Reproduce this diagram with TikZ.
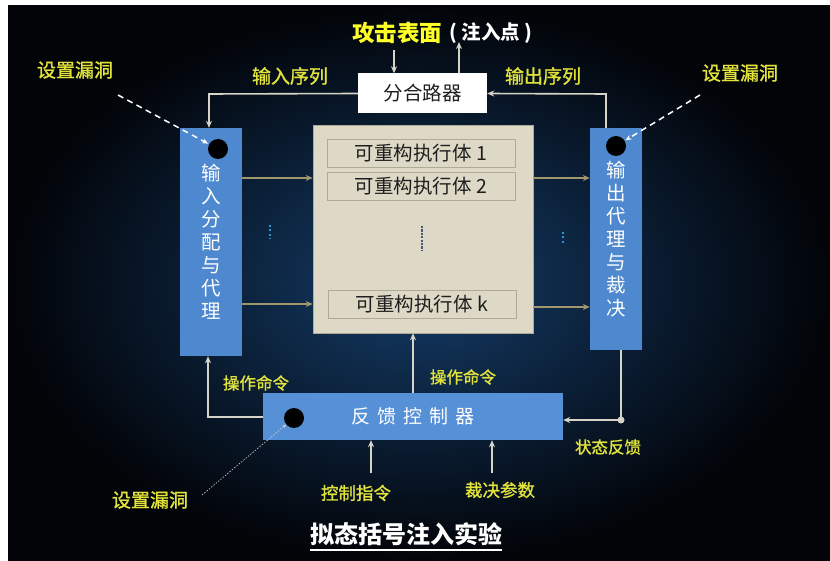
\documentclass[tikz,border=0pt]{standalone}
\usepackage{fontspec}
\setmainfont{Noto Sans CJK SC}
\newfontfamily\semibold[FakeBold=1.2]{Noto Sans CJK SC}
\usetikzlibrary{arrows.meta,calc}
\definecolor{bgcenter}{RGB}{20,60,104}
\definecolor{bgouter}{RGB}{2,4,8}
\definecolor{barblue}{RGB}{78,136,206}
\definecolor{fbblue}{RGB}{86,144,214}
\definecolor{beige}{RGB}{221,217,198}
\definecolor{beigeline}{RGB}{175,170,150}
\definecolor{olive}{RGB}{160,152,108}
\definecolor{linkgray}{RGB}{214,212,200}
\definecolor{labyellow}{RGB}{226,228,60}
\definecolor{hotyellow}{RGB}{255,255,40}
\definecolor{dotcyan}{RGB}{40,150,215}
\definecolor{txtdark}{RGB}{30,30,30}
\tikzset{
  bar/.style={draw=none, fill=barblue, inner sep=0pt, text=white, align=center,
    font=\fontsize{19.5}{23}\selectfont},
  exec/.style={draw=beigeline, line width=0.6pt, fill=beige, inner sep=0pt,
    minimum width=188pt, minimum height=28pt, text=txtdark, font=\fontsize{19.5}{20}\selectfont},
  hole/.style={circle, fill=black, draw=none, minimum size=20pt, inner sep=0pt},
  ylab/.style={text=labyellow, inner sep=0pt, font=\semibold\fontsize{19}{20}\selectfont},
  ylabs/.style={text=labyellow, inner sep=0pt, font=\semibold\fontsize{16.5}{18}\selectfont},
  tip/.style={-{Stealth[length=7pt,width=6pt]}},
  linkw/.style={draw=linkgray, line width=1.6pt, tip},
  linko/.style={draw=olive, line width=2pt, tip},
  holelink/.style={draw=white, line width=1.5pt, dash pattern=on 6pt off 4.5pt,
    -{Stealth[length=6pt,width=5pt]}, shorten >=1pt},
}
\begin{document}
\begin{tikzpicture}[x=1pt,y=-1pt]
\useasboundingbox (0,0) rectangle (830,561);
\fill[white] (0,0) rectangle (830,561);
\shade[inner color=bgcenter, outer color=bgouter] (8,6) rectangle (830,561);

% top title
\node[inner sep=0pt, text=hotyellow, font=\fontsize{22.5}{24}\selectfont\bfseries] (atk) at (397,33) {攻击表面};
\node[inner sep=0pt, text=white, font=\fontsize{19.5}{20}\selectfont\bfseries] (inj) at (491,33) {(\hspace{4pt}注入点\hspace{4pt})};

% splitter
\node[draw=none, fill=white, minimum width=129pt, minimum height=40pt, inner sep=0pt,
  text=txtdark, font=\fontsize{19.5}{20}\selectfont] (sp) at (422.5,93.5) {分合路器};
\coordinate (atkin) at (394,50);
\coordinate (atkout) at (459,42);
\draw[linkw] (atkin) -- (atkin |- sp.north);
\draw[linkw] (atkout |- sp.north) -- (atkout);

% bars
\node[bar, minimum width=62pt, minimum height=228pt] (lbar) at (211,242) {输\\入\\分\\配\\与\\代\\理};
\node[bar, minimum width=52pt, minimum height=222pt] (rbar) at (616,239) {输\\出\\代\\理\\与\\裁\\决};
\node[hole] (holeL) at (218,149) {};
\node[hole] (holeR) at (616,146) {};

% top connectors
\coordinate (lin) at (209,94);
\coordinate (rout) at (606,94);
\draw[linkw] (sp.west) -- (lin) -- (lin |- lbar.north);
\draw[linkw] (rout |- rbar.north) -- (rout) -- (sp.east);
\node[ylab] (inseq) at (290,76) {输入序列};
\node[ylab] (outseq) at (543,76) {输出序列};

% set holes top
\node[ylab] (hTL) at (75,70) {设置漏洞};
\node[ylab] (hTR) at (740,73) {设置漏洞};
\coordinate (hl1) at (118,95);
\coordinate (hr1) at (700,95);
\draw[holelink] (hl1) -- (holeL);
\draw[holelink] (hr1) -- (holeR);

% center executor pool
\node[draw=beigeline, line width=0.6pt, fill=beige, minimum width=220pt, minimum height=208pt, inner sep=0pt] (pool) at (423,229) {};
\node[exec] (e1) at (421,153) {可重构执行体 1};
\node[exec] (e2) at (421,186) {可重构执行体 2};
\node[exec] (ek) at (422,304) {可重构执行体 k};
\coordinate (pd1) at (422,226);
\coordinate (pd2) at (422,250);
\draw[draw={rgb,255:red,70;green,90;blue,120}, line width=2.2pt, dash pattern=on 2.2pt off 1.2pt] (pd1) -- (pd2);

% olive arrows
\draw[linko] (lbar.east |- 0,178) -- (pool.west |- 0,178);
\draw[linko] (lbar.east |- 0,304) -- (pool.west |- 0,304);
\draw[linko] (pool.east |- 0,178) -- (rbar.west |- 0,178);
\draw[linko] (pool.east |- 0,307) -- (rbar.west |- 0,307);

% cyan dots
\coordinate (cl1) at (270,225);
\coordinate (cl2) at (270,239);
\coordinate (cr1) at (563,232);
\coordinate (cr2) at (563,245);
\draw[dotcyan, line width=1.8pt, dash pattern=on 1.8pt off 2.6pt] (cl1) -- (cl2);
\draw[dotcyan, line width=1.8pt, dash pattern=on 1.8pt off 2.6pt] (cr1) -- (cr2);

% feedback controller
\node[draw=none, fill=fbblue, minimum width=300pt, minimum height=47pt, inner sep=0pt,
  text=white, font=\fontsize{19}{20}\selectfont] (fb) at (413,416.5)
  {反\hspace{7pt}馈\hspace{7pt}控\hspace{7pt}制\hspace{7pt}器};
\node[hole] (holeF) at (294,418) {};

\coordinate (fbl) at (208,417);
\draw[linkw] (fb.west |- fbl) -- (fbl) -- (fbl |- lbar.south);
\draw[linkw] (fb.north) -- (fb.north |- pool.south);
\coordinate (rfb) at (621,420);
\draw[linkw] (rfb |- rbar.south) -- (rfb) -- (fb.east |- rfb);
\fill[linkgray] (rfb) circle (3.5pt);

\coordinate (ci) at (371,473);
\coordinate (vp) at (492,473);
\draw[linkw] (ci) -- (ci |- fb.south);
\draw[linkw] (vp) -- (vp |- fb.south);

\node[ylabs] (op1) at (256,383) {操作命令};
\node[ylabs] (op2) at (463,377) {操作命令};
\node[ylabs] (sf) at (608,447) {状态反馈};
\node[ylab, font=\semibold\fontsize{17.5}{18}\selectfont] (ctl) at (356,493) {控制指令};
\node[ylab, font=\semibold\fontsize{17.5}{18}\selectfont] (par) at (500,490) {裁决参数};

% bottom-left hole
\node[ylab] (hBL) at (150,500) {设置漏洞};
\coordinate (hb1) at (202,495);
\draw[draw=linkgray, line width=0.6pt, dash pattern=on 1.5pt off 1.5pt,
  -{Stealth[length=4pt,width=3pt]}] (hb1) -- (holeF);

% title
\node[inner sep=0pt, text=white, font=\fontsize{24}{26}\selectfont\bfseries] (title) at (406,534) {拟态括号注入实验};
\draw[white, line width=1.6pt] ($(title.south west)+(0,4)$) -- ($(title.south east)+(0,4)$);
\end{tikzpicture}
\end{document}
